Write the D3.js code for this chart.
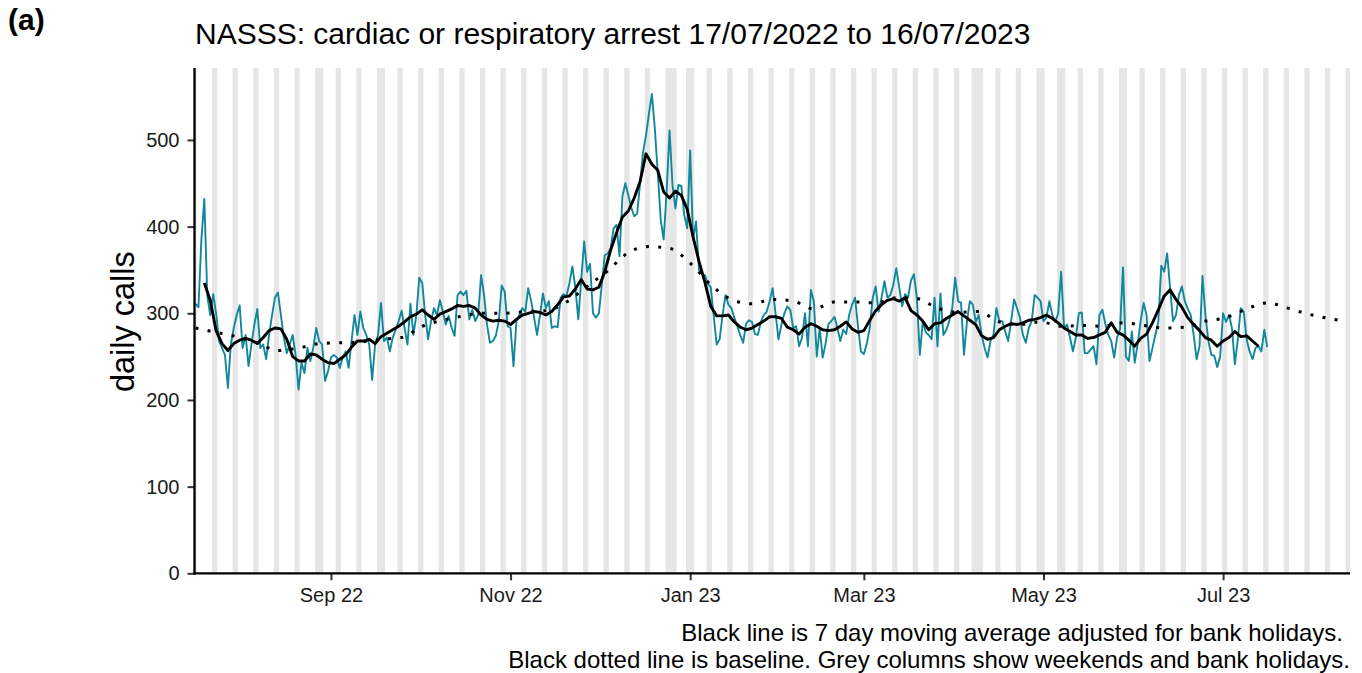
<!DOCTYPE html>
<html><head><meta charset="utf-8">
<script src="https://cdn.jsdelivr.net/npm/d3@7"></script>
<style>
body{margin:0;background:#fff}
svg{display:block}
text{font-family:"Liberation Sans",Arial,Helvetica,sans-serif}
</style>
</head><body>
<svg id="chart" width="1362" height="673"></svg>
<script>
// ---------------- DATA ----------------
const startDate = "2022-07-17";          // first day of the daily series
// daily calls, 17/07/2022 .. 16/07/2023
const dailyCalls = [
311,307,385,432,320,298,322, 300,268,260,252,214,264,283, 298,309,260,275,239,264,287,
305,260,264,247,275,298,318, 324,298,272,254,264,275,252, 212,243,231,260,245,260,283,
268,264,222,233,249,252,249, 237,249,256,237,268,298,275, 302,283,275,264,223,264,275,
312,268,272,256,272,281,291, 303,283,264,311,275,298,341, 335,298,270,291,306,298,315,
302,287,297,283,274,321,325, 321,326,293,304,291,298,344, 321,287,266,268,274,291,332,
325,285,283,239,291,298,306, 302,329,314,295,275,298,323, 306,314,283,285,284,318,322,
320,335,354,330,293,338,383, 348,357,300,295,300,333,367, 369,375,398,402,366,435,450,
436,422,412,415,450,486,505, 530,553,513,462,408,385,440, 511,448,421,448,447,413,398,
488,385,406,350,345,344,334, 330,297,264,270,298,321,310, 306,295,285,275,266,288,292,
290,276,275,290,298,302,314, 329,300,270,287,300,308,304, 283,285,262,272,300,262,327,
314,250,283,249,265,288,291, 296,283,268,281,276,298,310, 318,285,256,253,265,283,318,
331,302,318,337,318,321,333, 352,330,308,322,318,338,345, 318,252,291,278,275,270,318,
262,323,275,281,291,306,341, 314,312,252,290,314,310,290, 298,275,260,249,268,275,306,
291,291,279,268,291,316,306, 295,275,266,283,291,321,318, 314,291,295,314,298,290,300,
348,283,287,272,256,272,300, 301,254,254,258,262,241,298, 304,288,275,268,249,272,282,
353,250,245,279,243,265,291, 312,298,245,260,275,290,355, 348,369,329,291,298,321,331,
314,305,298,275,247,262,343, 298,268,252,251,238,250,300, 290,298,283,241,270,306,302,
270,256,247,260,262,256,281, 261
];
// 7 day moving average (adjusted for bank holidays), read every 2nd day from day 3 (20/07/2022)
const maFirstDay = 3, maStep = 2;
const movingAverage = [
335,315,280,265,257,265,269,271,269,265,272,280,283,282,
270,250,245,245,253,252,247,243,242,247,252,261,268,268,270,
265,273,277,281,285,290,296,299,304,298,293,299,302,305,309,
308,309,306,298,293,291,292,291,287,293,298,300,302,301,298,
302,310,319,320,328,339,328,327,330,348,373,393,411,418,433,
452,484,472,465,440,433,441,436,420,388,360,336,308,297,297,
298,290,284,281,283,287,291,296,296,294,284,281,276,284,288,
285,281,280,281,285,290,282,278,280,292,303,310,315,317,314,
318,303,298,291,281,288,289,294,298,302,297,292,287,274,270,
272,281,285,288,287,289,292,293,295,298,294,289,283,279,275,
275,271,272,275,278,289,278,275,269,262,271,276,289,304,320,
327,316,307,295,287,280,272,269,262,268,272,279,273,274,268,
262
];
// baseline (day index from start, value)
const baselineDay = [0,7,14,21,28,35,42,49,56,63,70,77,84,91,98,105,112,119,126,133,140,147,154,161,168,175,182,189,196,203,210,217,224,231,238,245,252,259,266,273,280,287,294,301,308,315,322,329,336,343,350,357,364,371,378,385,390];
const baselineValue = [283,278,273,266,257,260,265,266,267,270,272,285,292,297,300,300,302,303,313,331,349,370,377,375,358,333,316,311,316,314,305,313,313,312,318,317,306,301,302,290,287,290,285,286,285,289,286,283,284,291,295,305,312,306,299,294,291];
const lastShadedDay = 392;
const bankHolidays = ["2022-08-29","2022-09-19","2022-12-26","2022-12-27","2023-01-02","2023-04-07","2023-04-10","2023-05-01","2023-05-08","2023-05-29"];
const yTicks = [0,100,200,300,400,500];
const xTickDates = ["2022-09-01","2022-11-01","2023-01-01","2023-03-01","2023-05-01","2023-07-01"];
const panelLabel = "(a)";
const titleText = "NASSS: cardiac or respiratory arrest 17/07/2022 to 16/07/2023";
const yTitle = "daily calls";
const captionLines = ["Black line is 7 day moving average adjusted for bank holidays.",
                      "Black dotted line is baseline. Grey columns show weekends and bank holidays."];

// ---------------- CHART ----------------
(function () {
const svg = d3.select("#chart");
const parse = d3.utcParse("%Y-%m-%d");
const t0 = parse(startDate);
const DAY = 864e5;
const dayDate = i => new Date(+t0 + i * DAY);

const pL = 194.5, pR = 1350, pT = 68, pB = 573.3;
const x = d3.scaleUtc().domain([dayDate(-0.34), dayDate(392.1)]).range([pL, pR]);
const y = d3.scaleLinear().domain([0, 583]).range([pB, pT]);

// grey columns: weekends + bank holidays, merged into runs
const bh = new Set(bankHolidays);
const fmt = d3.utcFormat("%Y-%m-%d");
const shaded = [];
for (let i = 0; i <= lastShadedDay; i++) {
  const dt = dayDate(i), wd = dt.getUTCDay();
  if (wd === 0 || wd === 6 || bh.has(fmt(dt))) shaded.push(i);
}
const runs = [];
shaded.forEach(i => {
  const r = runs[runs.length - 1];
  if (r && r[1] === i - 1) r[1] = i; else runs.push([i, i]);
});
svg.append("defs").append("clipPath").attr("id", "panel")
  .append("rect").attr("x", pL).attr("y", pT - 2).attr("width", pR - pL).attr("height", pB - pT + 2);
const gPanel = svg.append("g").attr("clip-path", "url(#panel)");
gPanel.selectAll("rect.col").data(runs).join("rect").attr("class", "col")
  .attr("x", d => x(dayDate(d[0] - 0.4)))
  .attr("width", d => x(dayDate(d[1] + 0.4)) - x(dayDate(d[0] - 0.4)))
  .attr("y", pT).attr("height", pB - pT)
  .attr("fill", "#e6e6e6");

// teal daily line
const daily = dailyCalls.map((v, i) => ({d: dayDate(i), v}));
gPanel.append("path").datum(daily)
  .attr("fill", "none").attr("stroke", "#12879b").attr("stroke-width", 1.9).attr("stroke-linejoin", "round")
  .attr("d", d3.line().x(p => x(p.d)).y(p => y(p.v)));

// baseline dotted
const base = baselineDay.map((dd, i) => ({d: dayDate(dd), v: baselineValue[i]}));
gPanel.append("path").datum(base)
  .attr("fill", "none").attr("stroke", "#000").attr("stroke-width", 3)
  .attr("stroke-dasharray", "3,9.3")
  .attr("d", d3.line().curve(d3.curveMonotoneX).x(p => x(p.d)).y(p => y(p.v)));

// moving average
const ma = movingAverage.map((v, i) => ({d: dayDate(maFirstDay + i * maStep), v}));
gPanel.append("path").datum(ma)
  .attr("fill", "none").attr("stroke", "#000").attr("stroke-width", 2.9).attr("stroke-linejoin", "round")
  .attr("d", d3.line().x(p => x(p.d)).y(p => y(p.v)));

// axes
const xAxis = d3.axisBottom(x).tickValues(xTickDates.map(parse)).tickFormat(d3.utcFormat("%b %y"))
  .tickSize(7).tickPadding(8);
const gx = svg.append("g").attr("transform", `translate(0,${pB})`).call(xAxis);
const yAxis = d3.axisLeft(y).tickValues(yTicks).tickSize(7).tickPadding(8);
const gy = svg.append("g").attr("transform", `translate(${pL},0)`).call(yAxis);
[gx, gy].forEach(g => {
  g.select(".domain").remove();
  g.selectAll(".tick line").attr("stroke", "#333").attr("stroke-width", 2);
  g.selectAll(".tick text").attr("fill", "#1a1a1a").style("font-size", "20px")
    .style("font-family", '"Liberation Sans",Arial,sans-serif');
});
svg.append("line").attr("x1", pL).attr("x2", pL).attr("y1", pT).attr("y2", pB + 1.1)
  .attr("stroke", "#000").attr("stroke-width", 2.3);
svg.append("line").attr("x1", pL - 1.1).attr("x2", pR).attr("y1", pB).attr("y2", pB)
  .attr("stroke", "#000").attr("stroke-width", 2.3);

// texts
svg.append("text").attr("x", 8).attr("y", 30).text(panelLabel)
  .style("font-size", "30px").style("font-weight", "bold").attr("fill", "#000");
svg.append("text").attr("x", 195).attr("y", 44).text(titleText)
  .style("font-size", "30px").attr("fill", "#000");
svg.append("text").attr("transform", `translate(134,${(pT + pB) / 2 + 1}) rotate(-90)`)
  .attr("text-anchor", "middle").text(yTitle).style("font-size", "32.5px").attr("fill", "#000");
svg.append("text").attr("x", 1343).attr("y", 641).attr("text-anchor", "end").text(captionLines[0])
  .style("font-size", "24px").attr("fill", "#000");
svg.append("text").attr("x", 1350).attr("y", 668).attr("text-anchor", "end").text(captionLines[1])
  .style("font-size", "24px").attr("fill", "#000");
})();
</script>
</body></html>
